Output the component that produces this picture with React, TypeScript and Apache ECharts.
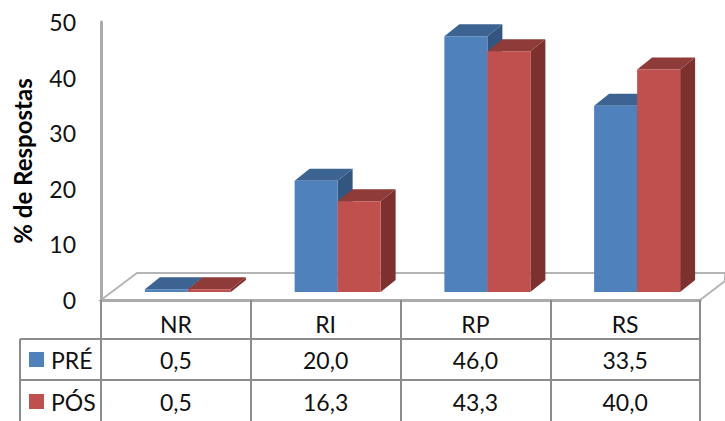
import React, { useEffect, useRef } from "react";
import * as echarts from "echarts";

const categories = ["NR", "RI", "RP", "RS"];
const preValues = [0.5, 20.0, 46.0, 33.5];
const posValues = [0.5, 16.3, 43.3, 40.0];
const preLabels = ["0,5", "20,0", "46,0", "33,5"];
const posLabels = ["0,5", "16,3", "43,3", "40,0"];

const FONT = "Lato, sans-serif";
const TEXT = "#111111";
const FS = 23;
const LEFT = 101, RIGHT = 700, TOP = 22, FLOOR = 300;
const BAND = (RIGHT - LEFT) / categories.length;
const LIFT = 8, DX = 15, DY = 12;
const LINE = "#8c8c8c";

function bar3d(x0: number, x1: number, colors: string[]) {
  return (params: any, api: any) => {
    const c = api.coord([api.value(0), api.value(1)]);
    const base = api.coord([api.value(0), 0]);
    const l = c[0] + x0, r = c[0] + x1;
    const t = c[1] - LIFT, b = base[1] - LIFT;
    return {
      type: "group",
      children: [
        { type: "polygon", shape: { points: [[r, t], [r + DX, t - DY], [r + DX, b - DY], [r, b]] }, style: { fill: colors[2] } },
        { type: "polygon", shape: { points: [[l, t], [l + DX, t - DY], [r + DX, t - DY], [r, t]] }, style: { fill: colors[1] } },
        { type: "rect", shape: { x: l, y: t, width: r - l, height: b - t }, style: { fill: colors[0] } },
      ],
    };
  };
}

function tableText(text: string, x: number, y: number, align = "center") {
  return { type: "text", x, y, z: 5, style: { text, fill: TEXT, font: `${FS}px ${FONT}`, textAlign: align, textVerticalAlign: "middle" } };
}
function tableLine(x1: number, y1: number, x2: number, y2: number, color = LINE, width = 2) {
  return { type: "line", z: 1, shape: { x1, y1, x2, y2 }, style: { stroke: color, lineWidth: width } };
}

export default function App() {
  const ref = useRef<HTMLDivElement>(null);
  useEffect(() => {
    const chart = echarts.init(ref.current!, undefined, { renderer: "svg" });
    chart.setOption({
      animation: false,
      backgroundColor: "#ffffff",
      grid: { left: LEFT, top: TOP, width: RIGHT - LEFT, height: FLOOR - TOP, outerBoundsMode: "none" },
      xAxis: {
        type: "category",
        data: categories,
        axisLine: { lineStyle: { color: "#ababab", width: 3 } },
        axisTick: { show: true, length: 121, lineStyle: { color: LINE, width: 2 } },
        axisLabel: { color: TEXT, fontFamily: FONT, fontSize: FS, margin: 12 },
      },
      yAxis: {
        type: "value",
        min: 0,
        max: 50,
        interval: 10,
        name: "% de Respostas",
        nameLocation: "middle",
        nameGap: 67,
        nameTextStyle: { color: "#000", fontFamily: FONT, fontSize: 24, fontWeight: "bold" },
        splitLine: { show: false },
        axisTick: { show: false },
        axisLine: { show: true, lineStyle: { color: "#ababab", width: 3 } },
        axisLabel: { color: TEXT, fontFamily: FONT, fontSize: FS, margin: 25 },
      },
      graphic: [
        { type: "polygon", z: 0, shape: { points: [[LEFT, FLOOR], [LEFT + 36, FLOOR - 27], [725, FLOOR - 27], [725, FLOOR - 19], [RIGHT, FLOOR]] }, style: { fill: "#fff", stroke: "#b5b5b5", lineWidth: 2 } },
        tableLine(20, 339, RIGHT, 339),
        tableLine(20, 380, RIGHT, 380),
        tableLine(20, 339, 20, 421),
        { type: "rect", z: 5, shape: { x: 29, y: 352, width: 15, height: 15 }, style: { fill: "#4F81BD" } },
        { type: "rect", z: 5, shape: { x: 29, y: 394, width: 15, height: 15 }, style: { fill: "#C0504D" } },
        tableText("PRÉ", 51, 360, "left"),
        tableText("PÓS", 51, 402, "left"),
        ...preLabels.map((t, i) => tableText(t, LEFT + BAND * (i + 0.5), 360)),
        ...posLabels.map((t, i) => tableText(t, LEFT + BAND * (i + 0.5), 402)),
      ],
      series: [
        {
          type: "custom",
          name: "PRÉ",
          z: 3,
          clip: false,
          data: preValues.map((v, i) => [i, v]),
          encode: { x: 0, y: 1 },
          renderItem: bar3d(-31, 12, ["#4F81BD", "#3C6391", "#325680"]),
        },
        {
          type: "custom",
          name: "PÓS",
          z: 4,
          clip: false,
          data: posValues.map((v, i) => [i, v]),
          encode: { x: 0, y: 1 },
          renderItem: bar3d(12, 55, ["#C0504D", "#8E3B39", "#7D302E"]),
        },
      ],
    });
    return () => chart.dispose();
  }, []);
  return <div ref={ref} style={{ position: "absolute", left: 0, top: 0, width: 725, height: 421 }} />;
}
